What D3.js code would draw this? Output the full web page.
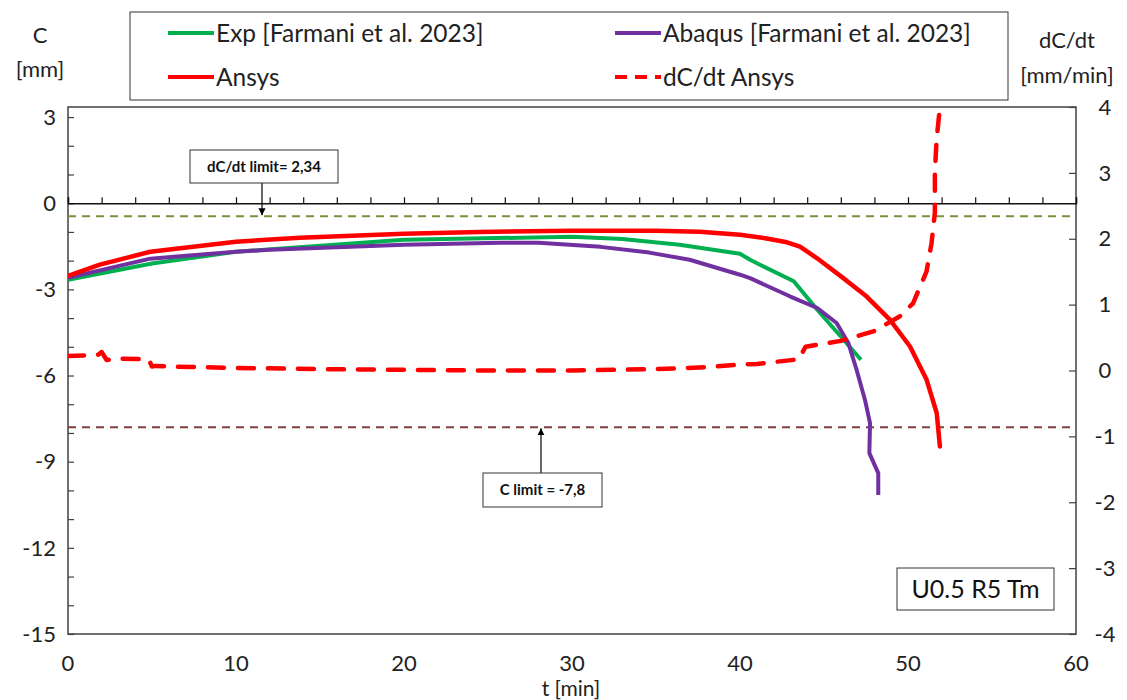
<!DOCTYPE html>
<html><head><meta charset="utf-8">
<script src="https://cdn.jsdelivr.net/npm/d3@7"></script>
<style>body{margin:0;background:#fff}svg{display:block;font-family:Lato,"Open Sans",sans-serif}</style>
</head><body>
<svg id="c" width="1127" height="700"></svg>
<script>
// ---- data ----
const expT = [0, 5, 10, 20, 30, 33, 36.4, 40, 40.6, 43.2, 44.6, 46, 47.2];
const expC = [-2.67, -2.1, -1.69, -1.27, -1.17, -1.25, -1.45, -1.76, -1.97, -2.72, -3.71, -4.64, -5.45];
const abqT = [0, 4.9, 10, 12, 20, 25.7, 28, 31.7, 34.6, 37, 40, 40.6, 43, 44.6, 45.75, 46.45, 46.94, 47.44, 47.74, 47.7, 48.23, 48.23];
const abqC = [-2.6, -1.93, -1.69, -1.62, -1.45, -1.38, -1.38, -1.52, -1.72, -1.97, -2.49, -2.61, -3.25, -3.65, -4.17, -4.87, -5.8, -6.85, -7.66, -8.7, -9.4, -10.16];
const ansT = [0, 1.9, 4.9, 10, 13.8, 20, 24.5, 30, 35, 37.6, 40, 41.5, 42.8, 43.57, 44.57, 46.13, 47.54, 48.93, 50.12, 51.11, 51.71, 51.9];
const ansC = [-2.53, -2.14, -1.69, -1.34, -1.2, -1.06, -1.0, -0.96, -0.96, -0.99, -1.1, -1.22, -1.36, -1.51, -1.91, -2.6, -3.25, -4.06, -4.99, -6.15, -7.31, -8.47];
const rateT = [0, 1, 1.8, 2.0, 2.3, 3, 4.8, 5.0, 5.2, 6, 10, 15, 20, 25, 30, 35, 38, 40, 41, 43.5, 43.9, 46, 48, 49.5, 50.3, 51.1, 51.4, 51.6, 51.6, 51.7, 51.9];
const rateV = [0.22, 0.23, 0.24, 0.28, 0.16, 0.18, 0.17, 0.06, 0.07, 0.06, 0.04, 0.02, 0.01, 0.0, 0.0, 0.02, 0.05, 0.09, 0.1, 0.17, 0.36, 0.45, 0.6, 0.82, 1.02, 1.5, 1.93, 2.4, 3.0, 3.5, 4.0];
const cLimit = -7.8;
const rateLimit = 2.34;
const xTickLabels = [0, 10, 20, 30, 40, 50, 60];
const yLeftLabels = [3, 0, -3, -6, -9, -12, -15];
const yRightLabels = [4, 3, 2, 1, 0, -1, -2, -3, -4];
const seriesNames = ["Exp [Farmani et al. 2023]", "Abaqus [Farmani et al. 2023]", "Ansys", "dC/dt Ansys"];

// ---- layout ----
const svg = d3.select("#c");
const L = 68, R = 1076, T = 107, B = 634;
const x = d3.scaleLinear().domain([0, 60]).range([L, R]);
const yL = d3.scaleLinear().domain([-15, 3.35]).range([B, T]);
const yR = d3.scaleLinear().domain([-4, 4]).range([B, T]);
const axisCol = "#404040";
const fs = 22;

// frame
svg.append("rect").attr("x", L).attr("y", T).attr("width", R - L).attr("height", B - T)
  .attr("fill", "none").attr("stroke", axisCol).attr("stroke-width", 1.5);

// left axis ticks (inward)
const gl = svg.append("g").attr("transform", `translate(${L},0)`);
gl.call(d3.axisRight(yL).tickValues(d3.range(-15, 3.5, 1)).tickSize(6).tickFormat(""));
gl.select(".domain").remove();
gl.selectAll("line").attr("stroke", axisCol).attr("stroke-width", 1.2);
yLeftLabels.forEach(v => svg.append("text").attr("x", 56).attr("y", yL(v)).attr("dy", "0.35em")
  .attr("text-anchor", "end").attr("font-size", fs).attr("fill", "#222").text(v));

// right axis ticks (inward)
const gr = svg.append("g").attr("transform", `translate(${R},0)`);
gr.call(d3.axisLeft(yR).tickValues(d3.range(-4, 4.5, 1)).tickSize(7).tickFormat(""));
gr.select(".domain").remove();
gr.selectAll("line").attr("stroke", axisCol).attr("stroke-width", 1.2);
yRightLabels.forEach(v => svg.append("text").attr("x", 1105).attr("y", yR(v)).attr("dy", "0.35em")
  .attr("text-anchor", "middle").attr("font-size", fs).attr("fill", "#222").text(v));

// x axis at C=0 with upward ticks
const gx = svg.append("g").attr("transform", `translate(0,${yL(0)})`);
gx.call(d3.axisTop(x).tickValues(d3.range(0, 61, 2)).tickSize(6).tickFormat(""));
gx.select(".domain").attr("stroke", "#111").attr("stroke-width", 1.5);
gx.selectAll("line").attr("stroke", "#111").attr("stroke-width", 1.2);
xTickLabels.forEach(v => svg.append("text").attr("x", x(v)).attr("y", 663).attr("dy", "0.35em")
  .attr("text-anchor", "middle").attr("font-size", fs).attr("fill", "#222").text(v));

// axis titles
svg.append("text").attr("x", 571).attr("y", 689).attr("dy", "0.35em").attr("text-anchor", "middle")
  .attr("font-size", 21).attr("fill", "#222").text("t [min]");
svg.append("text").attr("x", 40).attr("y", 35).attr("dy", "0.35em").attr("text-anchor", "middle")
  .attr("font-size", fs).attr("fill", "#222").text("C");
svg.append("text").attr("x", 40).attr("y", 69).attr("dy", "0.35em").attr("text-anchor", "middle")
  .attr("font-size", fs).attr("fill", "#222").text("[mm]");
svg.append("text").attr("x", 1067).attr("y", 40).attr("dy", "0.35em").attr("text-anchor", "middle")
  .attr("font-size", fs).attr("fill", "#222").text("dC/dt");
svg.append("text").attr("x", 1067).attr("y", 75).attr("dy", "0.35em").attr("text-anchor", "middle")
  .attr("font-size", fs).attr("fill", "#222").text("[mm/min]");

// limit lines
svg.append("line").attr("x1", L).attr("x2", R).attr("y1", yR(rateLimit)).attr("y2", yR(rateLimit))
  .attr("stroke", "#77933c").attr("stroke-width", 2).attr("stroke-dasharray", "8,6");
svg.append("line").attr("x1", L).attr("x2", R).attr("y1", yL(cLimit)).attr("y2", yL(cLimit))
  .attr("stroke", "#7f3f3f").attr("stroke-width", 2).attr("stroke-dasharray", "8,6");

// series
svg.append("clipPath").attr("id", "pc").append("rect")
  .attr("x", L).attr("y", T).attr("width", R - L).attr("height", B - T);
const lineL = d3.line().x(d => x(d[0])).y(d => yL(d[1]));
const lineR = d3.line().x(d => x(d[0])).y(d => yR(d[1]));
const gS = svg.append("g").attr("clip-path", "url(#pc)");
gS.append("path").datum(d3.zip(expT, expC)).attr("d", lineL).attr("fill", "none")
  .attr("stroke", "#00b050").attr("stroke-width", 4).attr("stroke-linejoin", "round");
gS.append("path").datum(d3.zip(abqT, abqC)).attr("d", lineL).attr("fill", "none")
  .attr("stroke", "#7030a0").attr("stroke-width", 4).attr("stroke-linejoin", "round");
gS.append("path").datum(d3.zip(ansT, ansC)).attr("d", lineL).attr("fill", "none")
  .attr("stroke", "#ff0000").attr("stroke-width", 4.5).attr("stroke-linejoin", "round").attr("stroke-linecap", "round");
gS.append("path").datum(d3.zip(rateT, rateV)).attr("d", lineR).attr("fill", "none")
  .attr("stroke", "#ff0000").attr("stroke-width", 4.5).attr("stroke-dasharray", "16,14")
  .attr("stroke-linejoin", "round").attr("stroke-linecap", "round");

// annotations
const defs = svg.append("defs");
defs.append("marker").attr("id", "ah").attr("viewBox", "0 0 10 10").attr("refX", 10).attr("refY", 5)
  .attr("markerWidth", 6).attr("markerHeight", 6).attr("orient", "auto")
  .append("path").attr("d", "M0,0L10,5L0,10z").attr("fill", "#000");
function callout(bx, by, bw, bh, txt, ax, ay1, ay2, size) {
  svg.append("line").attr("x1", ax).attr("x2", ax).attr("y1", ay1).attr("y2", ay2)
    .attr("stroke", "#000").attr("stroke-width", 1.2).attr("marker-end", "url(#ah)");
  svg.append("rect").attr("x", bx).attr("y", by).attr("width", bw).attr("height", bh)
    .attr("fill", "#fff").attr("stroke", "#333").attr("stroke-width", 1);
  svg.append("text").attr("x", bx + bw / 2).attr("y", by + bh / 2).attr("dy", "0.35em")
    .attr("text-anchor", "middle").attr("font-size", size).attr("font-weight", "bold").attr("fill", "#111").text(txt);
}
callout(190, 150, 148, 33, "dC/dt limit= " + String(rateLimit).replace(".", ","), 262, 183, yR(rateLimit) - 1, 15);
callout(483, 473, 119, 34, "C limit = " + String(cLimit).replace(".", ","), 541, 473, yL(cLimit) + 1, 15);

// label box
svg.append("rect").attr("x", 897).attr("y", 568).attr("width", 157).attr("height", 42)
  .attr("fill", "#fff").attr("stroke", "#333").attr("stroke-width", 1);
svg.append("text").attr("x", 975.5).attr("y", 589).attr("dy", "0.35em").attr("text-anchor", "middle")
  .attr("font-size", 25).attr("fill", "#111").text("U0.5 R5 Tm");

// legend
svg.append("rect").attr("x", 130).attr("y", 12).attr("width", 878).attr("height", 88)
  .attr("fill", "#fff").attr("stroke", "#333").attr("stroke-width", 1);
const leg = [
  {n: seriesNames[0], c: "#00b050", x: 168, y: 33, dash: null},
  {n: seriesNames[1], c: "#7030a0", x: 615, y: 33, dash: null},
  {n: seriesNames[2], c: "#ff0000", x: 168, y: 77, dash: null},
  {n: seriesNames[3], c: "#ff0000", x: 615, y: 77, dash: "12,8"}
];
leg.forEach(d => {
  svg.append("line").attr("x1", d.x).attr("x2", d.x + 46).attr("y1", d.y).attr("y2", d.y)
    .attr("stroke", d.c).attr("stroke-width", 4).attr("stroke-dasharray", d.dash);
  svg.append("text").attr("x", d.x + 48).attr("y", d.y).attr("dy", "0.35em")
    .attr("font-size", 24.5).attr("fill", "#222").text(d.n);
});
</script>
</body></html>
